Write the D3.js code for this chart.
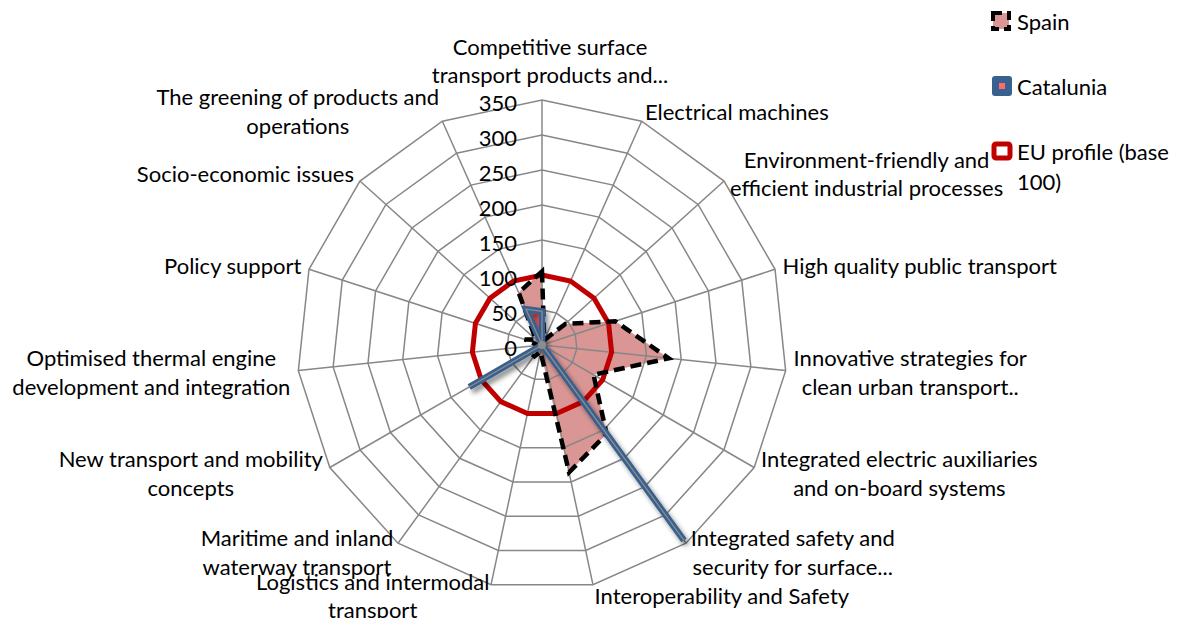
<!DOCTYPE html>
<html><head><meta charset="utf-8">
<script src="https://cdn.jsdelivr.net/npm/d3@7"></script>
<style>
html,body{margin:0;padding:0;background:#fff;}
svg{display:block;font-family:Lato,"Open Sans",sans-serif;}
</style></head>
<body>
<svg id="chart" width="1187" height="618"></svg>
<script>
// ---- data ----
const categories = [
  "Competitive surface\ntransport products and...",
  "Electrical machines",
  "Environment-friendly and\nefficient industrial processes",
  "High quality public transport",
  "Innovative strategies for\nclean urban transport..",
  "Integrated electric auxiliaries\nand on-board systems",
  "Integrated safety and\nsecurity for surface...",
  "Interoperability and Safety",
  "Logistics and intermodal\ntransport",
  "Maritime and inland\nwaterway transport",
  "New transport and mobility\nconcepts",
  "Optimised thermal engine\ndevelopment and integration",
  "Policy support",
  "Socio-economic issues",
  "The greening of products and\noperations"
];
const spainValues     = [105, 8, 45, 110, 182, 85, 157, 186, 10, 22, 5, 5, 26, 12, 82];
const catalunyaValues = [48, 0, 0, 0, 0, 0, 345, 0, 0, 0, 120, 0, 0, 0, 56];
const euValues        = [100,100,100,100,100,100,100,100,100,100,100,100,100,100,100];
const tickValues = [0, 50, 100, 150, 200, 250, 300, 350];
const seriesNames = ["Spain", "Catalunia", "EU profile (base\n100)"];

// ---- layout ----
const svg = d3.select("#chart");
const cx = 542, cy = 345, R = 245;
const n = categories.length;
const r = d3.scaleLinear().domain([0, 350]).range([0, R]);
const ang = d3.scaleLinear().domain([0, n]).range([0, 2 * Math.PI]);
const g = svg.append("g").attr("transform", `translate(${cx},${cy})`);

const defs = svg.append("defs");
const f = defs.append("filter").attr("id", "shadow").attr("x", "-20%").attr("y", "-20%").attr("width", "140%").attr("height", "140%");
f.append("feDropShadow").attr("dx", 3).attr("dy", 4).attr("stdDeviation", 2.5)
  .attr("flood-color", "#000").attr("flood-opacity", 0.45);

const radial = d3.lineRadial()
  .angle((d, i) => ang(i))
  .radius(d => r(d))
  .curve(d3.curveLinearClosed);

// Spain fill
g.append("path").datum(spainValues).attr("d", radial)
  .attr("fill", "#D99694").attr("stroke", "none");
// Catalunia fill
g.append("path").datum(catalunyaValues).attr("d", radial)
  .attr("fill", "#FF5B5B").attr("stroke", "none");

// grid rings
const ringVals = tickValues.filter(v => v > 0);
g.selectAll(".ring").data(ringVals).join("path")
  .attr("d", v => radial(d3.range(n).map(() => v)))
  .attr("fill", "none").attr("stroke", "#878787").attr("stroke-width", 1.5);
// spokes
g.selectAll(".spoke").data(d3.range(n)).join("line")
  .attr("x1", 0).attr("y1", 0)
  .attr("x2", i => r(350) * Math.sin(ang(i)))
  .attr("y2", i => -r(350) * Math.cos(ang(i)))
  .attr("stroke", "#878787").attr("stroke-width", 1.5);

// EU profile
g.append("path").datum(euValues).attr("d", radial)
  .attr("fill", "none").attr("stroke", "#C00000").attr("stroke-width", 5);
// Spain dashed outline
g.append("path").datum(spainValues).attr("d", radial)
  .attr("fill", "none").attr("stroke", "#000").attr("stroke-width", 4.5)
  .attr("stroke-dasharray", "11,6").attr("stroke-linejoin", "miter");
// Catalunia outline (double line)
g.append("path").datum(catalunyaValues).attr("d", radial)
  .attr("fill", "none").attr("stroke", "#39618F").attr("stroke-width", 6.5)
  .attr("stroke-linejoin", "miter").attr("filter", "url(#shadow)");
g.append("path").datum(catalunyaValues).attr("d", radial)
  .attr("fill", "none").attr("stroke", "#8C8C8C").attr("stroke-width", 1.3);
g.append("circle").attr("r", 4).attr("fill", "#8C8C8C");

// tick labels
g.selectAll(".tick").data(tickValues).join("text")
  .attr("x", -25).attr("y", v => -r(v) + 2)
  .attr("text-anchor", "end").attr("dominant-baseline", "central")
  .attr("font-size", 22).attr("fill", "#000").text(v => v);

// category labels
const lineH = 28.5;
categories.forEach((label, i) => {
  const a = ang(i);
  const s = Math.sin(a), c = Math.cos(a);
  const vx = r(350) * s, vy = -r(350) * c;
  const px = vx + 8 * s, py = vy - 11 * c;
  const lines = label.split("\n");
  const t = g.append("text").attr("font-size", 22).attr("fill", "#000");
  let anchor, x0, yc;
  if (Math.abs(s) < 0.1) {
    anchor = "middle"; x0 = px + 8;
    yc = py - lines.length * lineH / 2;
  } else {
    anchor = s > 0 ? "start" : "end"; x0 = px;
    yc = py;
  }
  t.attr("text-anchor", anchor);
  lines.forEach((ln, k) => {
    t.append("tspan").attr("x", x0)
      .attr("y", yc + (k - (lines.length - 1) / 2) * lineH)
      .attr("dominant-baseline", "central").text(ln);
  });
  // center multi-line blocks horizontally within their widest line
  if (lines.length > 1 && anchor !== "middle") {
    const spans = t.selectAll("tspan").nodes();
    const widths = spans.map(sp => sp.getComputedTextLength());
    const wmax = d3.max(widths);
    const midX = anchor === "start" ? x0 + wmax / 2 : x0 - wmax / 2;
    t.attr("text-anchor", "middle");
    spans.forEach(sp => sp.setAttribute("x", midX));
  }
});

// legend
const lg = svg.append("g").attr("font-size", 22).attr("fill", "#000");
const lx = 992, ly = [21, 86, 151];
// Spain symbol
lg.append("rect").attr("x", lx + 1).attr("y", ly[0] - 8).attr("width", 16).attr("height", 16)
  .attr("fill", "#D99694").attr("stroke", "#000").attr("stroke-width", 4)
  .attr("stroke-dasharray", "9,5");
// Catalunia symbol
lg.append("rect").attr("x", lx).attr("y", ly[1] - 10).attr("width", 20).attr("height", 20)
  .attr("rx", 3).attr("fill", "#39618F");
lg.append("rect").attr("x", lx + 7).attr("y", ly[1] - 3).attr("width", 6).attr("height", 6)
  .attr("fill", "#FF6B6B");
// EU symbol
lg.append("rect").attr("x", lx + 2).attr("y", ly[2] - 7).attr("width", 16).attr("height", 14)
  .attr("rx", 2).attr("fill", "#fff").attr("stroke", "#C00000").attr("stroke-width", 5);
seriesNames.forEach((nm, i) => {
  const t = lg.append("text").attr("x", lx + 25).attr("y", ly[i]).attr("dominant-baseline", "central");
  nm.split("\n").forEach((ln, k) => {
    t.append("tspan").attr("x", lx + 25).attr("y", ly[i] + k * 30).text(ln);
  });
});
</script>
</body></html>
